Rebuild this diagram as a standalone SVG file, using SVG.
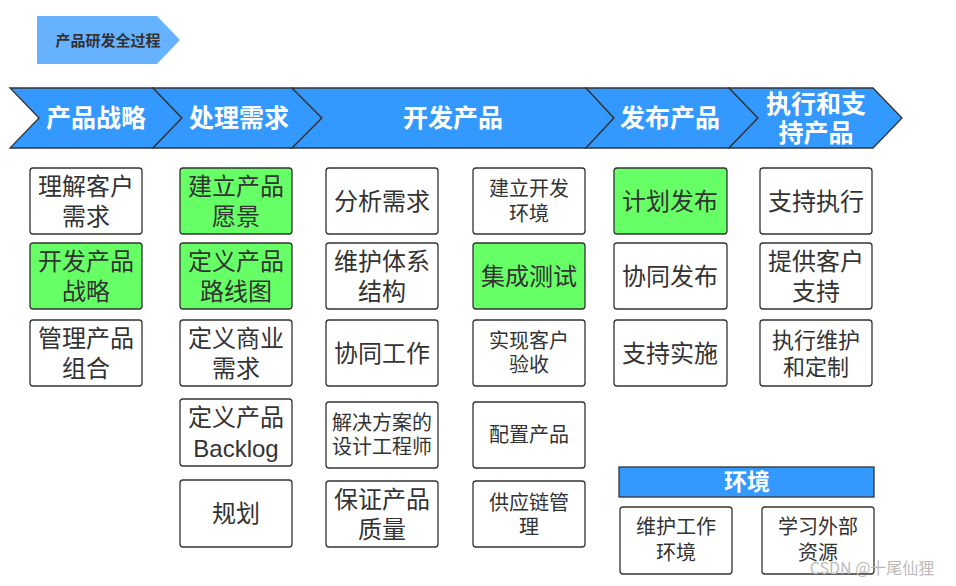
<svg xmlns="http://www.w3.org/2000/svg" width="956" height="586" viewBox="0 0 956 586">
<style>
text{font-family:"Noto Sans CJK SC","Liberation Sans",sans-serif;text-anchor:middle;dominant-baseline:central;fill:#333}
.chev{fill:#3399ff;stroke:#333;stroke-width:1.3}
.ct{fill:#fff;font-weight:bold;font-size:25px}
.box{fill:#fff;stroke:#333;stroke-width:1.3}
.g{fill:#66ff66}
.l{font-size:24px}
.m{font-size:22px}
.s{font-size:20px}
</style>
<rect width="956" height="586" fill="#fff"/>
<g id="title">
<polygon points="37,16 157,16 180,40 157,64 37,64" fill="#66b2ff"/>
<text x="108" y="39" style="font-size:15px;font-weight:600">产品研发全过程</text>
</g>
<g id="phase1"><polygon class="chev" points="10,88 153,88 182,118 153,148 10,148 39,118"/><text class="ct" x="96" y="116">产品战略</text></g>
<g id="phase2"><polygon class="chev" points="153,88 292,88 322,118 292,148 153,148 182,118"/><text class="ct" x="239" y="116">处理需求</text></g>
<g id="phase3"><polygon class="chev" points="292,88 586,88 614,118 586,148 292,148 322,118"/><text class="ct" x="453" y="116">开发产品</text></g>
<g id="phase4"><polygon class="chev" points="586,88 729,88 758,118 729,148 586,148 614,118"/><text class="ct" x="670" y="116">发布产品</text></g>
<g id="phase5"><polygon class="chev" points="729,88 873,88 902,118 873,148 729,148 758,118"/><text class="ct" x="816" y="102">执行和支</text><text class="ct" x="816" y="131">持产品</text></g>

<g id="n1"><rect class="box" x="30" y="168" width="112" height="66" rx="3"/><text class="l" x="86" y="184">理解客户</text><text class="l" x="86" y="214">需求</text></g>
<g id="n2"><rect class="box g" x="30" y="243" width="112" height="66" rx="3"/><text class="l" x="86" y="259">开发产品</text><text class="l" x="86" y="289">战略</text></g>
<g id="n3"><rect class="box" x="30" y="320" width="112" height="66" rx="3"/><text class="l" x="86" y="336">管理产品</text><text class="l" x="86" y="366">组合</text></g>

<g id="n4"><rect class="box g" x="180" y="168" width="112" height="66" rx="3"/><text class="l" x="236" y="184">建立产品</text><text class="l" x="236" y="214">愿景</text></g>
<g id="n5"><rect class="box g" x="180" y="243" width="112" height="66" rx="3"/><text class="l" x="236" y="259">定义产品</text><text class="l" x="236" y="289">路线图</text></g>
<g id="n6"><rect class="box" x="180" y="320" width="112" height="66" rx="3"/><text class="l" x="236" y="336">定义商业</text><text class="l" x="236" y="366">需求</text></g>
<g id="n7"><rect class="box" x="180" y="399" width="112" height="67" rx="3"/><text class="l" x="236" y="415">定义产品</text><text class="l" x="236" y="448" style="font-family:'Liberation Sans',sans-serif">Backlog</text></g>
<g id="n8"><rect class="box" x="180" y="480" width="112" height="67" rx="3"/><text class="l" x="236" y="511">规划</text></g>

<g id="n9"><rect class="box" x="326" y="168" width="112" height="66" rx="3"/><text class="l" x="382" y="199">分析需求</text></g>
<g id="n10"><rect class="box" x="326" y="243" width="112" height="66" rx="3"/><text class="l" x="382" y="259">维护体系</text><text class="l" x="382" y="289">结构</text></g>
<g id="n11"><rect class="box" x="326" y="320" width="112" height="66" rx="3"/><text class="l" x="382" y="351">协同工作</text></g>
<g id="n12"><rect class="box" x="326" y="402" width="112" height="66" rx="3"/><text class="s" x="382" y="421">解决方案的</text><text class="s" x="382" y="445">设计工程师</text></g>
<g id="n13"><rect class="box" x="326" y="481" width="112" height="66" rx="3"/><text class="l" x="382" y="497">保证产品</text><text class="l" x="382" y="527">质量</text></g>

<g id="n14"><rect class="box" x="473" y="168" width="112" height="66" rx="3"/><text class="s" x="529" y="187">建立开发</text><text class="s" x="529" y="212">环境</text></g>
<g id="n15"><rect class="box g" x="473" y="243" width="112" height="66" rx="3"/><text class="l" x="529" y="274">集成测试</text></g>
<g id="n16"><rect class="box" x="473" y="320" width="112" height="66" rx="3"/><text class="s" x="529" y="339">实现客户</text><text class="s" x="529" y="363">验收</text></g>
<g id="n17"><rect class="box" x="473" y="402" width="112" height="66" rx="3"/><text class="s" x="529" y="433">配置产品</text></g>
<g id="n18"><rect class="box" x="473" y="481" width="112" height="66" rx="3"/><text class="s" x="529" y="501">供应链管</text><text class="s" x="529" y="525">理</text></g>

<g id="n19"><rect class="box g" x="614" y="168" width="113" height="66" rx="3"/><text class="l" x="670" y="199">计划发布</text></g>
<g id="n20"><rect class="box" x="614" y="243" width="113" height="66" rx="3"/><text class="l" x="670" y="274">协同发布</text></g>
<g id="n21"><rect class="box" x="614" y="320" width="113" height="66" rx="3"/><text class="l" x="670" y="351">支持实施</text></g>

<g id="n22"><rect class="box" x="760" y="168" width="112" height="66" rx="3"/><text class="l" x="816" y="199">支持执行</text></g>
<g id="n23"><rect class="box" x="760" y="243" width="112" height="66" rx="3"/><text class="l" x="816" y="259">提供客户</text><text class="l" x="816" y="289">支持</text></g>
<g id="n24"><rect class="box" x="760" y="320" width="112" height="66" rx="3"/><text class="m" x="816" y="338">执行维护</text><text class="m" x="816" y="365">和定制</text></g>

<g id="env"><rect x="619" y="467" width="255" height="30" fill="#3399ff" stroke="#333" stroke-width="1.3"/><text x="747" y="480" style="fill:#fff;font-weight:bold;font-size:23px">环境</text></g>
<g id="n25"><rect class="box" x="620" y="507" width="112" height="67" rx="3"/><text class="s" x="676" y="525">维护工作</text><text class="s" x="676" y="551">环境</text></g>
<g id="n26"><rect class="box" x="762" y="507" width="112" height="67" rx="3"/><text class="s" x="818" y="525">学习外部</text><text class="s" x="818" y="551">资源</text></g>
<g id="connectors"></g>
<text x="872" y="567" style="font-size:16px;fill:#bbb">CSDN @十尾仙狸</text>
</svg>
